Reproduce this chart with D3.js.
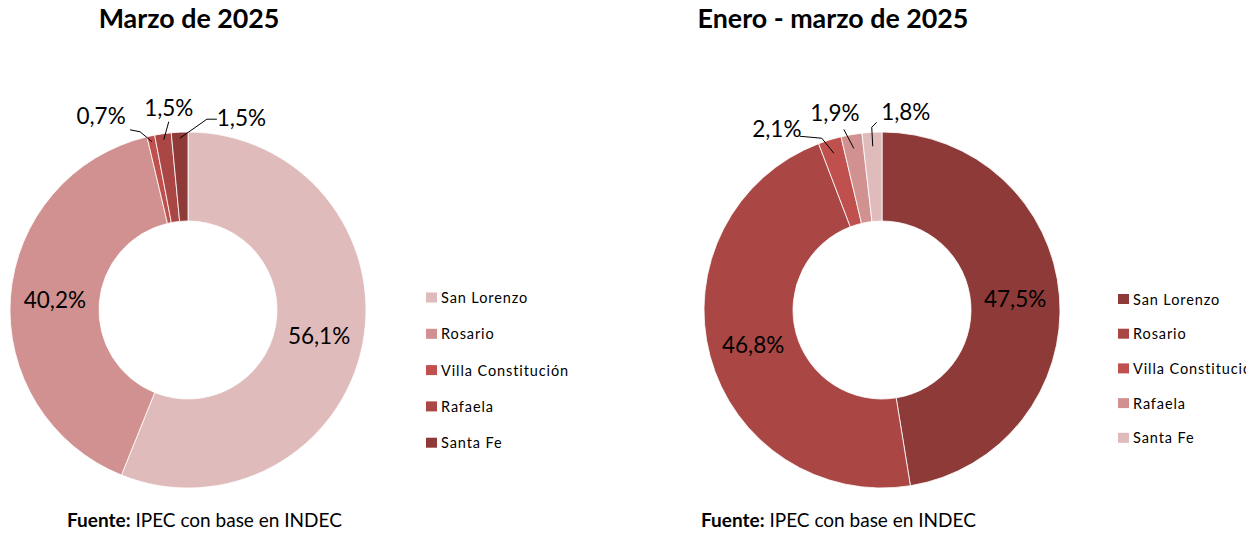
<!DOCTYPE html>
<html><head><meta charset="utf-8">
<script src="https://cdn.jsdelivr.net/npm/d3@7/dist/d3.min.js"></script>
<style>
html,body{margin:0;padding:0;background:#fff;}
svg{display:block;font-family:Lato,"Open Sans",sans-serif;}
</style></head>
<body><svg id="c" width="1258" height="536"></svg>
<script>
// ---- data ----
const categories = ["San Lorenzo", "Rosario", "Villa Constitución", "Rafaela", "Santa Fe"];
const valuesMarzo = [56.1, 40.2, 0.7, 1.5, 1.5];
const valuesEneroMarzo = [47.5, 46.8, 2.1, 1.9, 1.8];
const titles = ["Marzo de 2025", "Enero - marzo de 2025"];
const sourceLabel = "Fuente:";
const sourceText = " IPEC con base en INDEC";
const colorsMarzo = ["#E0BBBB", "#D19190", "#C0504D", "#AA4745", "#8E3A38"];
const colorsEneroMarzo = ["#8E3A38", "#AA4745", "#C0504D", "#D19190", "#E0BBBB"];

// ---- layout ----
const charts = [
  { title: titles[0], values: valuesMarzo, colors: colorsMarzo,
    cx: 188, cy: 310, titleX: 189, legendX: 426, legendY0: 292.5, legendStep: 36.3, sourceX: 67,
    anchorR: 172,
    small: {
      2: { label: [-51, -26], line: [[-22, -12], [-12, -10]] },
      3: { label: [5, -32], line: [[5, -18]] },
      4: { label: [61.5, -20], line: [[37, -19], [27, -19]] }
    } },
  { title: titles[1], values: valuesEneroMarzo, colors: colorsEneroMarzo,
    cx: 882, cy: 310, titleX: 833, legendX: 1118, legendY0: 294, legendStep: 34.7, sourceX: 701,
    anchorR: 164,
    small: {
      2: { label: [-57, -24], line: [[-34, -17], [-12, -15]] },
      3: { label: [-19, -36], line: [[-10, -19]] },
      4: { label: [33, -34], line: [[4, -24], [-1, -19]] }
    } }
];
const outerR = 178, innerR = 89;

const svg = d3.select("#c");
svg.append("defs").append("clipPath").attr("id", "clipR")
  .append("rect").attr("x", 0).attr("y", 0).attr("width", 1246).attr("height", 536);

const fmt = v => d3.format(".1f")(v).replace(".", ",") + "%";
const arc = d3.arc().innerRadius(innerR).outerRadius(outerR);
const pie = d3.pie().sort(null).value(d => d);

charts.forEach(ch => {
  const g = svg.append("g");
  // title
  g.append("text").attr("x", ch.titleX).attr("y", 28).attr("text-anchor", "middle")
    .attr("font-size", 26.8).attr("font-weight", 700).attr("fill", "#000").text(ch.title);

  const pg = g.append("g").attr("transform", `translate(${ch.cx},${ch.cy})`);
  const arcs = pie(ch.values);
  pg.selectAll("path").data(arcs).join("path")
    .attr("d", arc).attr("fill", (d, i) => ch.colors[i])
    .attr("stroke", "#fff").attr("stroke-width", 0.8);

  const midR = (innerR + outerR) / 2;
  arcs.forEach((d, i) => {
    const a = (d.startAngle + d.endAngle) / 2;
    const s = ch.small[i];
    if (!s) {
      pg.append("text").attr("x", Math.sin(a) * midR).attr("y", -Math.cos(a) * midR)
        .attr("dy", "0.36em").attr("text-anchor", "middle").attr("font-size", 22.5)
        .attr("fill", "#000").text(fmt(d.data));
    } else {
      const ax = Math.sin(a) * ch.anchorR, ay = -Math.cos(a) * ch.anchorR;
      const pts = s.line.map(p => [ax + p[0], ay + p[1]]).concat([[ax, ay]]);
      pg.append("path").attr("d", d3.line()(pts)).attr("fill", "none")
        .attr("stroke", "#000").attr("stroke-width", 1);
      pg.append("text").attr("x", ax + s.label[0]).attr("y", ay + s.label[1])
        .attr("dy", "0.36em").attr("text-anchor", "middle").attr("font-size", 22.5)
        .attr("fill", "#000").text(fmt(d.data));
    }
  });

  // legend
  const lg = g.append("g").attr("clip-path", "url(#clipR)");
  categories.forEach((c, i) => {
    const y = ch.legendY0 + i * ch.legendStep;
    lg.append("rect").attr("x", ch.legendX).attr("y", y).attr("width", 11).attr("height", 10)
      .attr("fill", ch.colors[i]);
    lg.append("text").attr("x", ch.legendX + 15).attr("y", y + 10.5)
      .attr("font-size", 14.5).attr("letter-spacing", 0.9).attr("fill", "#000").text(c);
  });

  // source
  const st = g.append("text").attr("x", ch.sourceX).attr("y", 527).attr("font-size", 19).attr("fill", "#000");
  st.append("tspan").attr("font-weight", 700).text(sourceLabel);
  st.append("tspan").text(sourceText);
});
</script></body></html>
